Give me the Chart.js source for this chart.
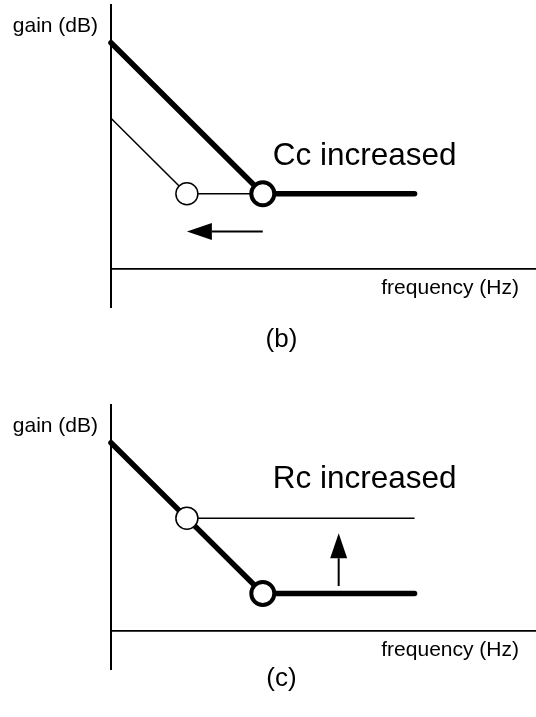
<!DOCTYPE html>
<html>
<head>
<meta charset="utf-8">
<script src="https://cdn.jsdelivr.net/npm/chart.js@4/dist/chart.umd.min.js"></script>
<style>
  html, body { margin: 0; padding: 0; background: #fff; }
  #wrap { position: relative; width: 536px; height: 717px; }
  canvas { position: absolute; left: 0; }
</style>
</head>
<body>
<div id="wrap">
  <canvas id="chartB" width="536" height="360" style="top:0"></canvas>
  <canvas id="chartC" width="536" height="357" style="top:360px"></canvas>
</div>
<script>
// Asymptotic Bode magnitude sketches.
// x: frequency position in decades from the axis origin, y: gain in dB.
const freqRange = [0, 5.6];

// (b) compensation capacitor increased: pole/zero break moves left
const gainRangeB = [-10, 70];
const baseCurveB = [{x: 0, y: 60}, {x: 2, y: 20}, {x: 4, y: 20}];
const newCurveB  = [{x: 0, y: 40}, {x: 1, y: 20}, {x: 2, y: 20}];
const arrowB     = [{x: 2, y: 10}, {x: 1, y: 10}];
const noteB      = {text: 'Cc increased', x: 2.13, y: 27.5};

// (c) compensation resistor increased: high-frequency floor moves up
const gainRangeC = [-10, 60];
const baseCurveC = [{x: 0, y: 50}, {x: 1, y: 30}, {x: 2, y: 10}, {x: 4, y: 10}];
const newCurveC  = [{x: 0, y: 50}, {x: 1, y: 30}, {x: 4, y: 30}];
const arrowC     = [{x: 3, y: 12}, {x: 3, y: 26}];
const noteC      = {text: 'Rc increased', x: 2.13, y: 37.9};

const axisTitleY = 'gain (dB)';
const axisTitleX = 'frequency (Hz)';

const FONT = '"Liberation Sans", Arial, Helvetica, sans-serif';

// Draws the axis titles, the annotation text, the shift arrow and the caption
const sketchText = {
  id: 'sketchText',
  afterDraw(chart, args, opts) {
    const {ctx, chartArea, scales} = chart;
    const xs = scales.x, ys = scales.y;
    ctx.save();
    ctx.fillStyle = '#000';
    ctx.strokeStyle = '#000';

    // vertical axis title, to the left of the axis top
    ctx.font = '21px ' + FONT;
    ctx.textAlign = 'right';
    ctx.textBaseline = 'alphabetic';
    ctx.fillText(axisTitleY, chartArea.left - 13, chartArea.top + 27);

    // horizontal axis title, under the right end of the axis
    ctx.textAlign = 'right';
    ctx.fillText(axisTitleX, chartArea.right - 17, ys.getPixelForValue(0) + 25);

    // annotation
    ctx.font = '31.5px ' + FONT;
    ctx.textAlign = 'left';
    ctx.fillText(opts.note.text, xs.getPixelForValue(opts.note.x), ys.getPixelForValue(opts.note.y));

    // arrow
    const a = opts.arrow;
    const x1 = xs.getPixelForValue(a[0].x), y1 = ys.getPixelForValue(a[0].y);
    const x2 = xs.getPixelForValue(a[1].x), y2 = ys.getPixelForValue(a[1].y);
    const len = Math.hypot(x2 - x1, y2 - y1);
    const ux = (x2 - x1) / len, uy = (y2 - y1) / len;
    const headLen = 25, headHalf = 8.5;
    const bx = x2 - ux * headLen, by = y2 - uy * headLen;
    ctx.lineWidth = 2;
    ctx.beginPath();
    ctx.moveTo(x1, y1);
    ctx.lineTo(bx, by);
    ctx.stroke();
    ctx.beginPath();
    ctx.moveTo(x2, y2);
    ctx.lineTo(bx - uy * headHalf, by + ux * headHalf);
    ctx.lineTo(bx + uy * headHalf, by - ux * headHalf);
    ctx.closePath();
    ctx.fill();

    // caption
    ctx.font = '26px ' + FONT;
    ctx.textAlign = 'center';
    ctx.fillText(opts.caption, 281.5, chartArea.bottom + opts.captionGap);
    ctx.restore();
  }
};

function thinLine(data, radii) {
  return {
    data,
    borderColor: '#000',
    borderWidth: 1.5,
    tension: 0,
    pointRadius: radii,
    pointHoverRadius: radii,
    pointBorderWidth: 1.5,
    pointBorderColor: '#000',
    pointBackgroundColor: '#fff',
    clip: false
  };
}

function thickLine(data, radii) {
  return {
    data,
    borderColor: '#000',
    borderWidth: 5.5,
    borderCapStyle: 'round',
    borderJoinStyle: 'round',
    tension: 0,
    pointRadius: radii,
    pointHoverRadius: radii,
    pointBorderWidth: 4,
    pointBorderColor: '#000',
    pointBackgroundColor: '#fff',
    clip: false
  };
}

function makeChart(id, gainRange, datasets, padding, textOpts) {
  return new Chart(document.getElementById(id), {
    type: 'line',
    data: {datasets},
    options: {
      responsive: false,
      animation: false,
      devicePixelRatio: 1,
      events: [],
      layout: {padding},
      plugins: {
        legend: {display: false},
        tooltip: {enabled: false},
        title: {display: false},
        sketchText: textOpts
      },
      scales: {
        x: {
          type: 'linear',
          min: freqRange[0],
          max: freqRange[1],
          position: {y: 0},
          grid: {display: false},
          ticks: {display: false},
          border: {display: true, color: '#000', width: 1.8}
        },
        y: {
          type: 'linear',
          min: gainRange[0],
          max: gainRange[1],
          position: {x: 0},
          grid: {display: false},
          ticks: {display: false},
          border: {display: true, color: '#000', width: 2}
        }
      }
    },
    plugins: [sketchText]
  });
}

// (b): thick original curve drawn above the thin shifted curve
makeChart('chartB', gainRangeB, [
  Object.assign(thickLine(baseCurveB, [0, 11.5, 0]), {order: 0}),
  Object.assign(thinLine(newCurveB, [0, 11, 0]), {order: 1})
], {left: 111, right: 0, top: 5, bottom: 53},
{note: noteB, arrow: arrowB, caption: '(b)', captionGap: 40});

// (c): thin raised curve drawn above the thick original curve
makeChart('chartC', gainRangeC, [
  Object.assign(thickLine(baseCurveC, [0, 0, 11.5, 0]), {order: 1}),
  Object.assign(thinLine(newCurveC, [0, 11, 0]), {order: 0})
], {left: 111, right: 0, top: 45, bottom: 48},
{note: noteC, arrow: arrowC, caption: '(c)', captionGap: 17});
</script>
</body>
</html>
